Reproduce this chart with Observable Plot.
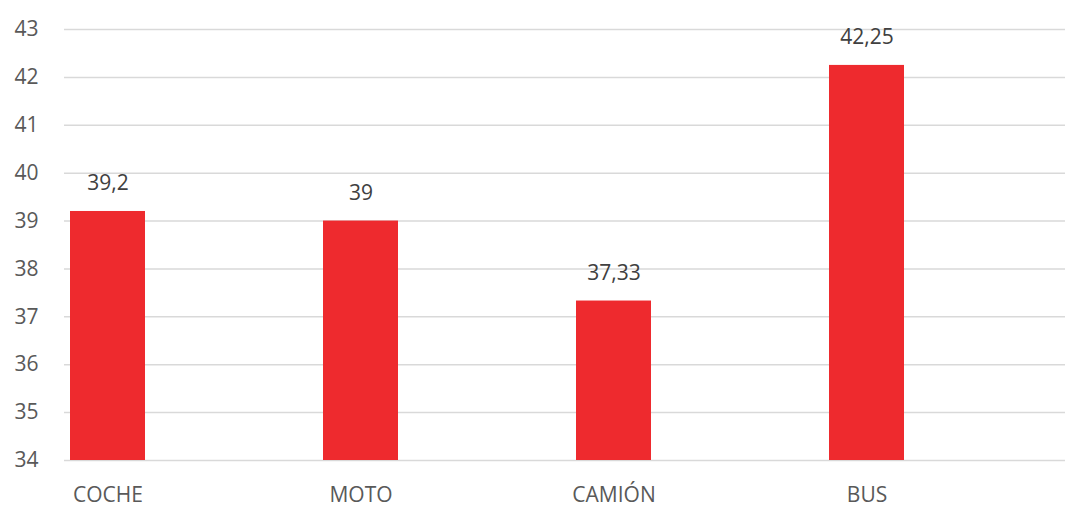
<!DOCTYPE html>
<html>
<head>
<meta charset="utf-8">
<script src="https://cdn.jsdelivr.net/npm/d3@7"></script>
<script src="https://cdn.jsdelivr.net/npm/@observablehq/plot@0.6"></script>
<style>
  html, body { margin: 0; padding: 0; background: #fff; }
  #chart svg { display: block; }
</style>
</head>
<body>
<div id="chart"></div>
<script>
const categories = ["COCHE", "MOTO", "CAMIÓN", "BUS"];
const values = [39.2, 39, 37.33, 42.25];
const yTicks = [34, 35, 36, 37, 38, 39, 40, 41, 42, 43];

const data = categories.map((c, i) => ({cat: c, value: values[i]}));
const fmt = v => String(v).replace(".", ",");

const chart = Plot.plot({
  width: 1069,
  height: 507,
  marginLeft: 64,
  marginRight: 4,
  marginTop: 29,
  marginBottom: 47,
  style: {fontFamily: "'Open Sans', sans-serif", fontSize: "21px", background: "#fff"},
  x: {domain: categories, range: [-107, 1082], paddingInner: 0.703, paddingOuter: 0.7, label: null},
  y: {domain: [34, 43], label: null},
  marks: [
    Plot.ruleY(yTicks, {stroke: "#d9d9d9", strokeWidth: 1.5}),
    Plot.barY(data, {x: "cat", y1: 34, y2: "value", fill: "#ee2a2e"}),
    Plot.text(data, {x: "cat", y: "value", text: d => fmt(d.value), dy: -28, fill: "#404040", fontSize: 21}),
    Plot.axisY({ticks: yTicks, tickSize: 0, tickPadding: 26, fill: "#595959", fontSize: 21, label: null}),
    Plot.axisX({tickSize: 0, tickPadding: 27, fill: "#595959", fontSize: 21, label: null})
  ]
});
document.getElementById("chart").appendChild(chart);
</script>
</body>
</html>
